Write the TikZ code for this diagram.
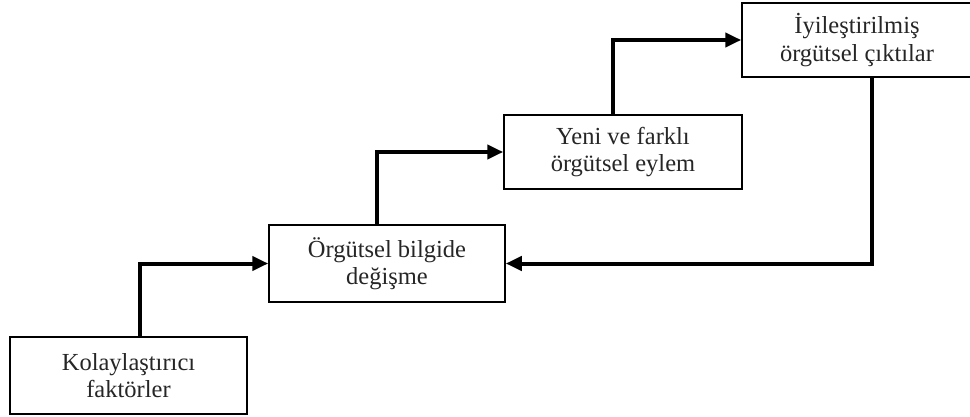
\documentclass[tikz,border=0pt]{standalone}
\usepackage{fontspec}
\setmainfont{Liberation Serif}
\usetikzlibrary{arrows.meta}
\begin{document}
\begin{tikzpicture}[x=1pt,y=-1pt,
  box/.style={draw, line width=1.5pt, rectangle, inner sep=0pt, align=center,
    font=\fontsize{24.5}{27.5}\selectfont, text=black!85},
  arr/.style={line width=4pt, -{Triangle[length=16pt,width=14pt]}}]
\useasboundingbox (0,0) rectangle (970,417);
\node[box, minimum width=237pt, minimum height=77pt] (b1) at (128.5,375.5) {Kolaylaştırıcı\\faktörler};
\node[box, minimum width=236pt, minimum height=77pt] (b2) at (387,263.5) {Örgütsel bilgide\\değişme};
\node[box, minimum width=238pt, minimum height=74pt] (b3) at (623,152) {Yeni ve farklı\\örgütsel eylem};
\node[box, minimum width=230pt, minimum height=74pt] (b4) at (857,40) {İyileştirilmiş\\örgütsel çıktılar};
\draw[arr] ([xshift=11.5pt]b1.north) |- (b2.west);
\draw[arr] ([xshift=-10pt]b2.north) |- (b3.west);
\draw[arr] ([xshift=-10pt]b3.north) |- (b4.west);
\draw[arr] ([xshift=15pt]b4.south) |- (b2.east);
\end{tikzpicture}
\end{document}
